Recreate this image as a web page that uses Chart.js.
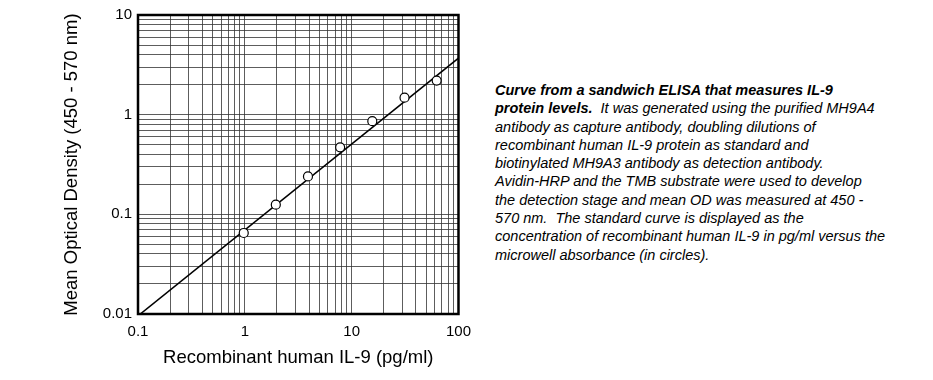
<!DOCTYPE html>
<html lang="en">
  <head>
    <meta charset="UTF-8" />
    <title>IL-9 ELISA standard curve</title>
    <script src="https://cdn.jsdelivr.net/npm/chart.js"></script>
    <style>
      body {
        margin: 0;
        background: #fff;
        font-family: "Liberation Sans", Arial, sans-serif;
      }
      #wrap {
        position: absolute;
        left: 0;
        top: 0;
        width: 480px;
        height: 380px;
      }
      #caption {
        position: absolute;
        left: 495px;
        top: 81px;
        font-size: 14.5px;
        line-height: 18.3px;
        font-style: italic;
        color: #000;
        white-space: nowrap;
      }
    </style>
  </head>
  <body>
    <div id="wrap"><canvas id="plot"></canvas></div>
    <div id="caption">
      <b>Curve from a sandwich ELISA that measures IL-9<br />protein levels.</b>&nbsp; It was generated using the purified MH9A4<br />
      antibody as capture antibody, doubling dilutions of<br />
      recombinant human IL-9 protein as standard and<br />
      biotinylated MH9A3 antibody as detection antibody.<br />
      Avidin-HRP and the TMB substrate were used to develop<br />
      the detection stage and mean OD was measured at 450 -<br />
      570 nm.&nbsp; The standard curve is displayed as the<br />
      concentration of recombinant human IL-9 in pg/ml versus the<br />
      microwell absorbance (in circles).
    </div>
    <script>
      // standards (pg/ml) and mean OD
      const concentrations = [0.977, 1.95, 3.9, 7.8, 15.6, 31.25, 62.5];
      const meanOD = [0.065, 0.125, 0.24, 0.47, 0.86, 1.48, 2.2];

      // fitted line end points
      const fitX = [0.105, 100];
      const fitY = [0.01, 3.7];

      const xTickLabels = ["0.1", "1", "10", "100"];
      const yTickLabels = ["0.01", "0.1", "1", "10"];

      // every 1..9 step inside each decade, for the graph-paper grid
      function logGrid(min, max) {
        const out = [];
        for (let d = min; d < max * 1.0001; d *= 10) {
          for (let k = 1; k <= 9; k++) {
            const v = +(d * k).toPrecision(3);
            if (v <= max * 1.0001) out.push({ value: v });
          }
        }
        return out;
      }

      const family = "'Liberation Sans', Arial, sans-serif";
      const tickFont = { family, size: 15 };
      const titleFont = { family, size: 18.5 };

      const frame = {
        id: "frame",
        afterDraw(chart) {
          const { ctx, chartArea: a } = chart;
          ctx.save();
          ctx.strokeStyle = "#000";
          ctx.lineWidth = 2.5;
          ctx.strokeRect(a.left, a.top, a.right - a.left, a.bottom - a.top);
          ctx.restore();
        },
      };

      new Chart(document.getElementById("plot"), {
        type: "scatter",
        data: {
          datasets: [
            {
              label: "OD",
              data: concentrations.map((x, i) => ({ x, y: meanOD[i] })),
              pointRadius: 4.5,
              pointBackgroundColor: "#fff",
              pointBorderColor: "#000",
              pointBorderWidth: 1.2,
              order: 0,
            },
            {
              label: "fit",
              type: "line",
              data: fitX.map((x, i) => ({ x, y: fitY[i] })),
              borderColor: "#000",
              borderWidth: 1.6,
              pointRadius: 0,
              order: 1,
            },
          ],
        },
        options: {
          responsive: true,
          maintainAspectRatio: false,
          animation: false,
          layout: { padding: { top: 14, right: 20, left: 0, bottom: 0 } },
          plugins: {
            legend: { display: false },
            tooltip: { enabled: false },
          },
          scales: {
            x: {
              type: "logarithmic",
              min: 0.1,
              max: 100,
              afterBuildTicks: (s) => (s.ticks = logGrid(0.1, 100)),
              afterFit: (s) => (s.height = 66),
              ticks: {
                autoSkip: false,
                maxRotation: 0,
                padding: 9,
                color: "#000",
                font: tickFont,
                callback: (v) => {
                  const i = Math.round(Math.log10(v)) + 1;
                  return Math.abs(Math.log10(v) - (i - 1)) < 1e-6 ? xTickLabels[i] : "";
                },
              },
              grid: { color: "#333", lineWidth: 0.8, drawTicks: false },
              border: { display: false },
              title: {
                display: true,
                text: "Recombinant human IL-9 (pg/ml)",
                color: "#000",
                font: titleFont,
                padding: { top: 0, bottom: 11 },
              },
            },
            y: {
              type: "logarithmic",
              min: 0.01,
              max: 10,
              afterBuildTicks: (s) => (s.ticks = logGrid(0.01, 10)),
              afterFit: (s) => (s.width = 138),
              ticks: {
                autoSkip: false,
                padding: 6,
                color: "#000",
                font: tickFont,
                callback: (v) => {
                  const i = Math.round(Math.log10(v)) + 2;
                  return Math.abs(Math.log10(v) - (i - 2)) < 1e-6 ? yTickLabels[i] : "";
                },
              },
              grid: { color: "#333", lineWidth: 0.8, drawTicks: false },
              border: { display: false },
              title: {
                display: true,
                text: "Mean Optical Density (450 - 570 nm)",
                color: "#000",
                font: titleFont,
                padding: { top: 61, bottom: 0 },
              },
            },
          },
        },
        plugins: [frame],
      });
    </script>
  </body>
</html>
